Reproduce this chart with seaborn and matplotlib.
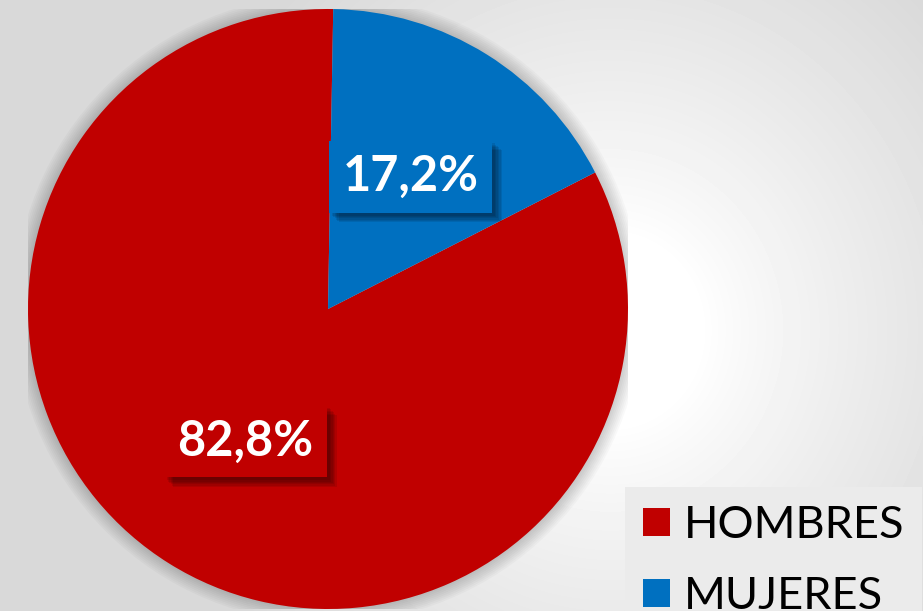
import matplotlib
matplotlib.use("Agg")
import matplotlib.pyplot as plt
import matplotlib.patheffects as pe
import seaborn as sns
import numpy as np

# ==========================================
# DONNEES
# ==========================================
categorias = ["HOMBRES", "MUJERES"]
porcentajes = [82.8, 17.2]
colores = ["#C00000", "#0070C0"]

sns.set_theme(style="white")
plt.rcParams["font.family"] = ["Lato", "DejaVu Sans"]

W, H = 923, 611
fig = plt.figure(figsize=(W / 100, H / 100), dpi=100)

# fond en degrade radial (gris -> blanc)
bg = fig.add_axes([0, 0, 1, 1], zorder=-10)
yy, xx = np.mgrid[0:H, 0:W]
r = np.hypot((xx - 610) / 1.0, (yy - 330) / 1.05)
t = np.clip((r - 90) / 360, 0, 1) ** 0.85
gris = 1 - 0.15 * t
bg.imshow(gris, cmap="gray", vmin=0, vmax=1, extent=[0, W, H, 0], aspect="auto")
bg.axis("off")

# camembert
cx, cy, rad = 328, 309, 300
ax = fig.add_axes([(cx - rad) / W, (H - cy - rad) / H, 2 * rad / W, 2 * rad / H])
ax.patch.set_alpha(0)

# halo autour du camembert
for k in range(1, 9):
    ax.add_patch(plt.Circle((0, 0), 1 + k * 0.006, color="black", alpha=0.025,
                            lw=0, zorder=0))

wedges, textos, autotextos = ax.pie(
    porcentajes, colors=colores, startangle=89, counterclock=True,
    autopct=lambda p: f"{p:.1f}%".replace(".", ","), pctdistance=0.52,
    wedgeprops={"linewidth": 0},
    textprops={"color": "white", "fontsize": 35, "fontweight": "bold"},
)
for w in wedges:
    w.set_zorder(2)

# ombre floue sous les etiquettes
ombre = [pe.withSimplePatchShadow(offset=(d, -d), shadow_rgbFace="black", alpha=0.09)
         for d in (7, 6, 5, 4, 3, 2)]
for txt, col in zip(autotextos, colores):
    txt.set_zorder(5)
    txt.set_bbox(dict(boxstyle="square,pad=0.28", fc=col, ec="none"))
    txt.get_bbox_patch().set_path_effects(ombre)

ax.set_xlim(-1, 1)
ax.set_ylim(-1, 1)
ax.axis("off")

# legende
leg = fig.legend(wedges, categorias, loc="upper left",
                 bbox_to_anchor=(625 / W, 1 - 487 / H), fontsize=32.5,
                 frameon=True, fancybox=False, facecolor="#ebebeb", edgecolor="none",
                 framealpha=1, handlelength=0.6, handleheight=0.6,
                 handletextpad=0.3, labelspacing=0.66, borderpad=0.4,
                 borderaxespad=0)
for t_ in leg.get_texts():
    t_.set_color("black")

fig.savefig("out.png", dpi=100)
plt.close(fig)
